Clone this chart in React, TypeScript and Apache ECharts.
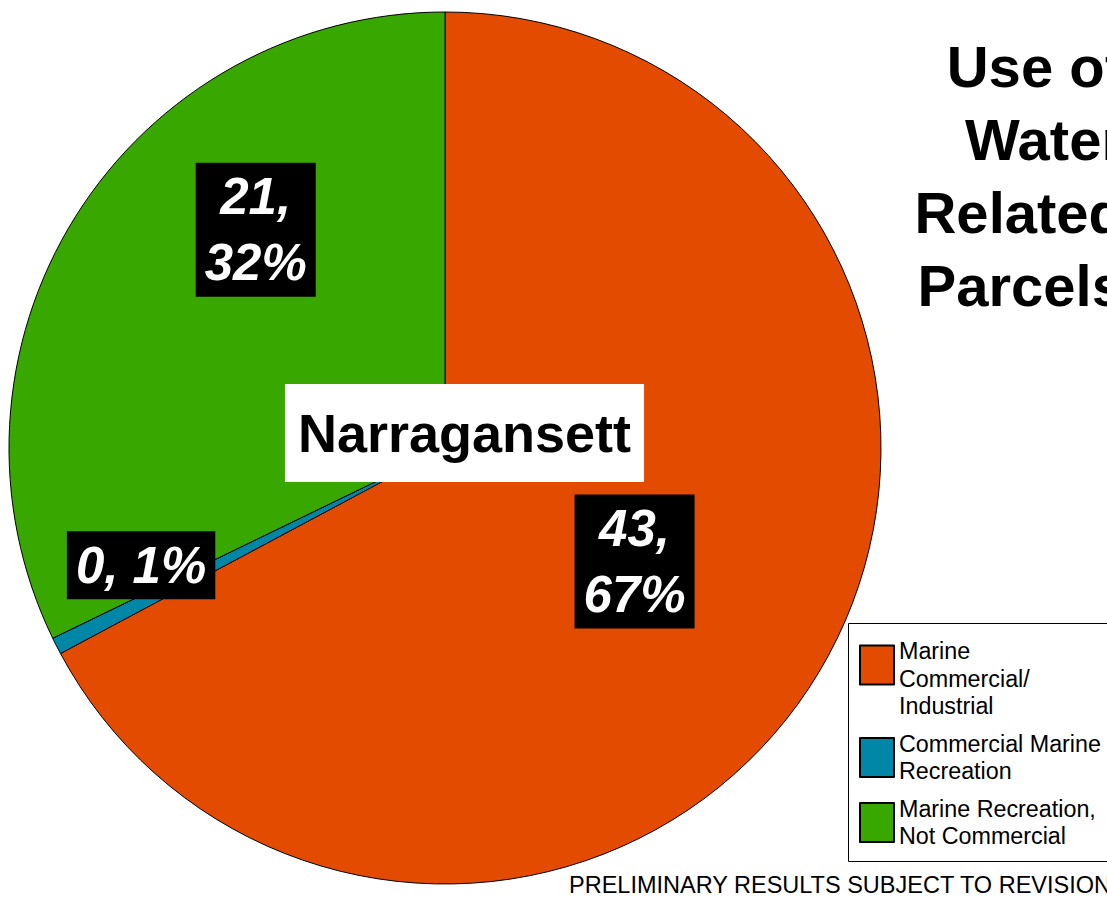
import React, { useEffect, useRef } from "react";
import * as echarts from "echarts";

const categories = [
  "Marine Commercial/ Industrial",
  "Commercial Marine Recreation",
  "Marine Recreation, Not Commercial",
];
const parcelCounts = [43, 0.4, 20.6];
const sliceLabels = ["43,\n67%", "0, 1%", "21,\n32%"];
const legendLines = [
  "\nMarine\nCommercial/\nIndustrial",
  "Commercial Marine\nRecreation",
  "Marine Recreation,\nNot Commercial",
];
const sliceColors = ["#E34C00", "#0087A8", "#38A800"];
const titleLines = ["Use of", "Water", "Related", "Parcels"];
const townName = "Narragansett";
const footnote = "PRELIMINARY RESULTS SUBJECT TO REVISION";

const FONT = '"Liberation Sans", Arial, Helvetica, sans-serif';
const labelShift: number[][] = [
  [0, 0],
  [-107, 17],
  [-2, -101],
];

export default function App() {
  const ref = useRef<HTMLDivElement>(null);
  useEffect(() => {
    if (!ref.current) return;
    const chart = echarts.init(ref.current, null, { renderer: "svg" });
    chart.setOption({
      animation: false,
      backgroundColor: "#fff",
      color: sliceColors,
      legend: {
        orient: "vertical",
        left: 859,
        top: 610,
        padding: 0,
        itemWidth: 34,
        itemHeight: 39,
        itemGap: 10,
        icon: "rect",
        selectedMode: false,
        data: categories,
        formatter: (name: string) => legendLines[categories.indexOf(name)],
        textStyle: {
          fontFamily: FONT,
          fontSize: 23.3,
          lineHeight: 27.5,
          color: "#000",
        },
      },
      series: [
        {
          type: "pie",
          center: [445, 448],
          radius: 436,
          startAngle: 90,
          clockwise: true,
          silent: true,
          avoidLabelOverlap: false,
          emphasis: { disabled: true },
          itemStyle: { borderColor: "#000", borderWidth: 1 },
          data: categories.map((name, i) => ({ name, value: parcelCounts[i] })),
          label: {
            show: true,
            position: "inside",
            formatter: (p: any) => sliceLabels[p.dataIndex],
            color: "#fff",
            backgroundColor: "#000",
            fontFamily: FONT,
            fontStyle: "italic",
            fontWeight: "bold",
            fontSize: 51,
            lineHeight: 66,
            padding: [1, 9],
            align: "center",
          },
          labelLine: { show: false },
          labelLayout: (p: any) => ({
            dx: labelShift[p.dataIndex][0],
            dy: labelShift[p.dataIndex][1],
          }),
        },
      ],
      graphic: [
        {
          type: "rect",
          z: 0,
          shape: { x: 848.5, y: 623.5, width: 300, height: 238 },
          style: { fill: "transparent", stroke: "#000", lineWidth: 1 },
        },
        {
          type: "text",
          x: 1124,
          y: 29.5,
          style: {
            text: titleLines.join("\n"),
            fontFamily: FONT,
            fontSize: 58,
            fontWeight: "bold",
            lineHeight: 73,
            fill: "#000",
            align: "right",
            verticalAlign: "top",
          },
        },
        {
          type: "text",
          x: 464.5,
          y: 433,
          z: 100,
          style: {
            text: townName,
            fontFamily: FONT,
            fontSize: 54,
            fontWeight: "bold",
            lineHeight: 62,
            fill: "#000",
            align: "center",
            verticalAlign: "middle",
            backgroundColor: "#fff",
            padding: [18, 13],
          },
        },
        {
          type: "text",
          x: 569,
          y: 885,
          style: {
            text: footnote,
            fontFamily: FONT,
            fontSize: 23.5,
            fill: "#000",
            align: "left",
            verticalAlign: "middle",
          },
        },
      ],
    });
    return () => chart.dispose();
  }, []);
  return (
    <div
      ref={ref}
      style={{ position: "absolute", left: 0, top: 0, width: 1107, height: 897 }}
    />
  );
}
